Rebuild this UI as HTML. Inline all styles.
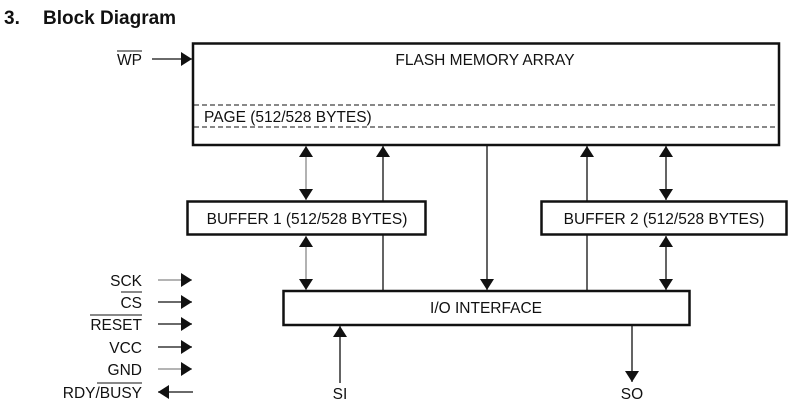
<!DOCTYPE html>
<html><head><style>
body{margin:0;width:797px;height:408px;background:#fff;overflow:hidden}
svg text{font-family:"Liberation Sans",Arial,sans-serif;fill:#111}
</style></head><body>
<svg width="797" height="408" viewBox="0 0 797 408" xmlns="http://www.w3.org/2000/svg">
<defs>
<marker id="a" viewBox="0 0 10 10" refX="10" refY="5" markerWidth="11" markerHeight="14" markerUnits="userSpaceOnUse" orient="auto-start-reverse" preserveAspectRatio="none"><path d="M0,0L10,5L0,10z" fill="#111"/></marker>
</defs>
<text x="4" y="24" font-size="19" font-weight="bold">3.</text>
<text x="43" y="24" font-size="19" font-weight="bold">Block Diagram</text>
<g fill="none" stroke="#111">
<g stroke-width="1.3">
<line x1="306" y1="146" x2="306" y2="200" stroke="#888" marker-start="url(#a)" marker-end="url(#a)"/>
<line x1="306" y1="236" x2="306" y2="290" stroke="#888" marker-start="url(#a)" marker-end="url(#a)"/>
<line x1="383" y1="291" x2="383" y2="146" marker-end="url(#a)"/>
<line x1="487" y1="145" x2="487" y2="290" marker-end="url(#a)"/>
<line x1="587" y1="291" x2="587" y2="146" marker-end="url(#a)"/>
<line x1="666" y1="146" x2="666" y2="200" marker-start="url(#a)" marker-end="url(#a)"/>
<line x1="666" y1="236" x2="666" y2="290" marker-start="url(#a)" marker-end="url(#a)"/>
<line x1="340" y1="383" x2="340" y2="326" marker-end="url(#a)"/>
<line x1="632" y1="325" x2="632" y2="382" marker-end="url(#a)"/>
<line x1="152" y1="59" x2="192" y2="59" marker-end="url(#a)"/>
<line x1="158" y1="280" x2="192" y2="280" stroke="#888" marker-end="url(#a)"/>
<line x1="158" y1="302" x2="192" y2="302" marker-end="url(#a)"/>
<line x1="158" y1="324" x2="192" y2="324" marker-end="url(#a)"/>
<line x1="158" y1="347" x2="192" y2="347" marker-end="url(#a)"/>
<line x1="158" y1="369" x2="192" y2="369" stroke="#888" marker-end="url(#a)"/>
<line x1="193" y1="392" x2="158" y2="392" marker-end="url(#a)"/>
</g>
<rect x="193" y="43.5" width="586" height="101.5" stroke-width="2.5" fill="none"/>
<line x1="194" y1="105" x2="778" y2="105" stroke-dasharray="5,3"/>
<line x1="194" y1="127" x2="778" y2="127" stroke-dasharray="5,3"/>
<rect x="187.5" y="201.5" width="238" height="33" stroke-width="2.5" fill="#fff"/>
<rect x="541.5" y="201.5" width="245" height="33" stroke-width="2.5" fill="#fff"/>
<rect x="283.5" y="291" width="406" height="34" stroke-width="2.5" fill="#fff"/>
<line x1="117" y1="51" x2="142" y2="51" stroke-width="1"/>
<line x1="121" y1="292" x2="142" y2="292" stroke-width="1"/>
<line x1="90" y1="315" x2="142" y2="315" stroke-width="1"/>
<line x1="97" y1="383" x2="142" y2="383" stroke-width="1"/>
</g>
<g font-size="15.5">
<text x="485" y="65" text-anchor="middle">FLASH MEMORY ARRAY</text>
<text x="204" y="122">PAGE (512/528 BYTES)</text>
<text x="307" y="224" text-anchor="middle">BUFFER 1 (512/528 BYTES)</text>
<text x="664" y="224" text-anchor="middle">BUFFER 2 (512/528 BYTES)</text>
<text x="486" y="313" text-anchor="middle">I/O INTERFACE</text>
<text x="340" y="399" text-anchor="middle">SI</text>
<text x="632" y="399" text-anchor="middle">SO</text>
<g text-anchor="end">
<text x="142" y="65">WP</text>
<text x="142" y="286">SCK</text>
<text x="142" y="308">CS</text>
<text x="142" y="330">RESET</text>
<text x="142" y="353">VCC</text>
<text x="142" y="375">GND</text>
<text x="142" y="398">RDY/BUSY</text>
</g>
</g>
</svg>
</body></html>
